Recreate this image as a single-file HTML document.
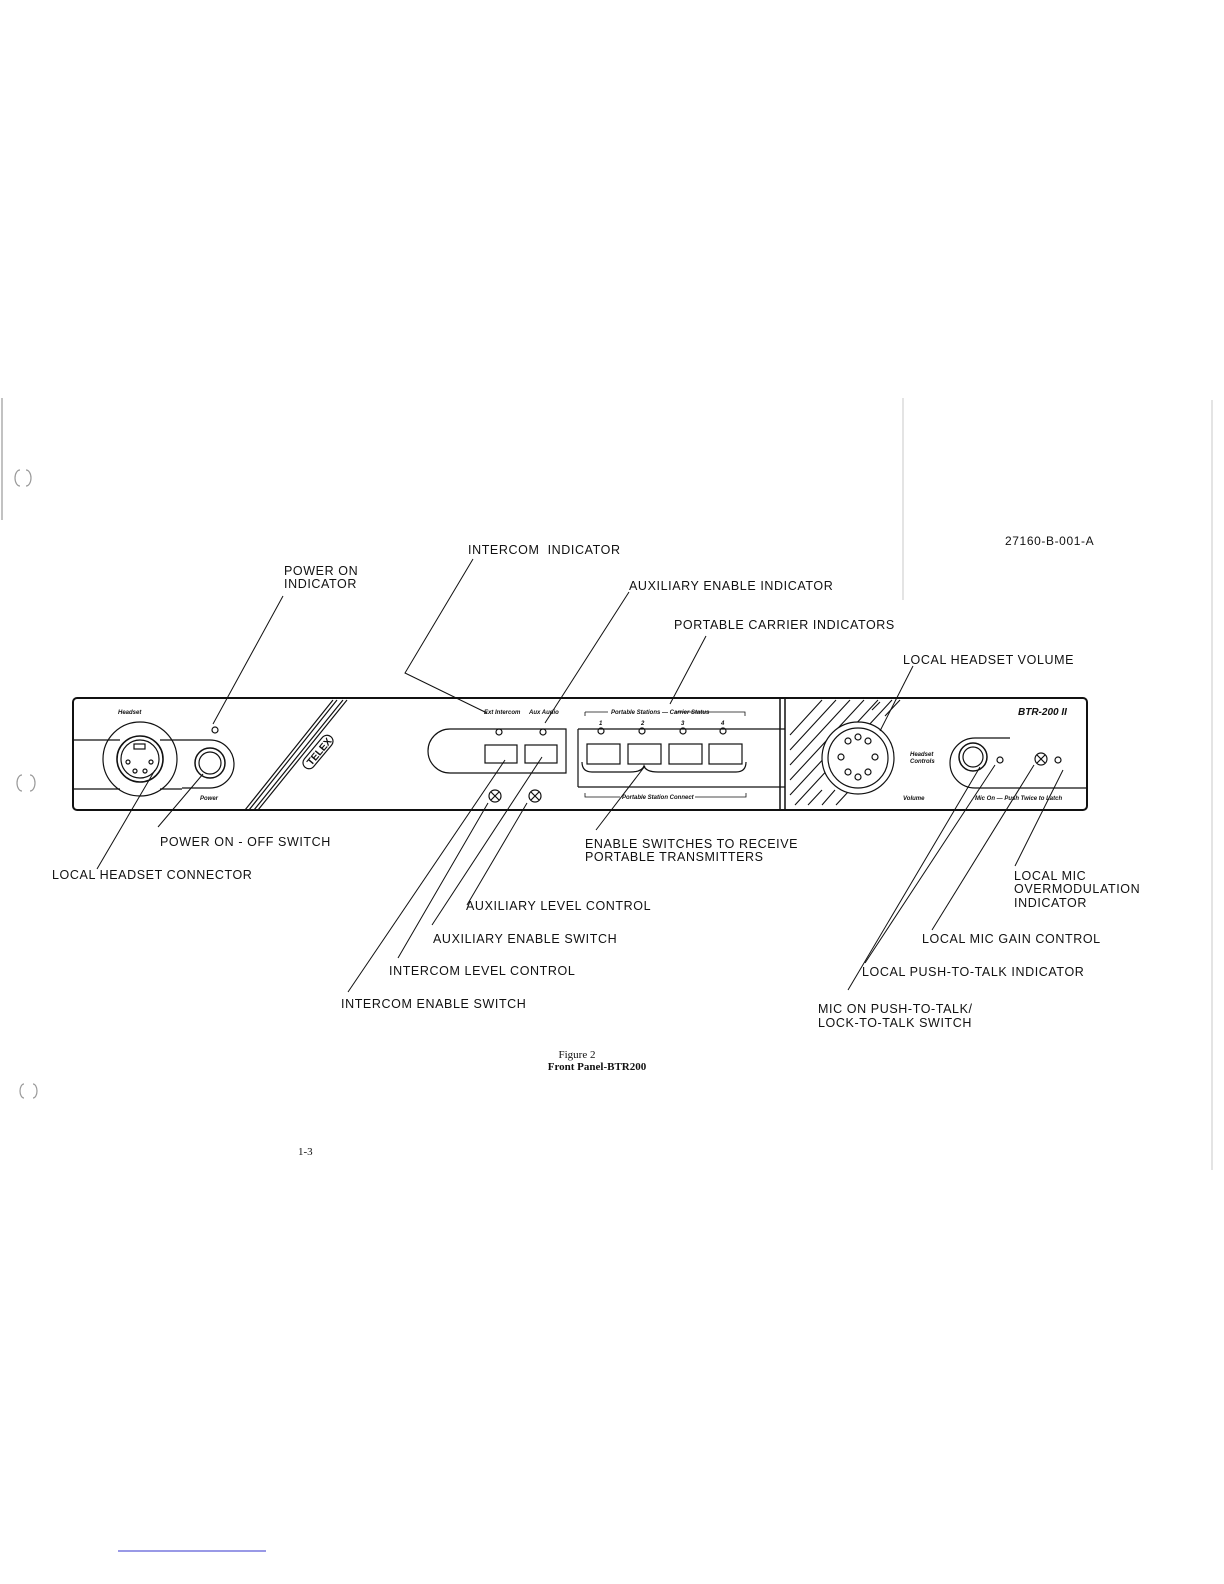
<!DOCTYPE html>
<html><head><meta charset="utf-8"><style>
html,body{margin:0;padding:0;background:#fff}
svg{display:block}
text{font-family:"Liberation Sans",sans-serif;fill:#111}
.l{font-size:12.5px;letter-spacing:0.6px}
.s{font-size:6px;font-style:italic;font-weight:bold}
</style></head><body>
<svg width="1224" height="1584" viewBox="0 0 1224 1584" xmlns="http://www.w3.org/2000/svg" fill="none" stroke="#111" stroke-width="1.2">
<!-- margin marks -->
<line x1="2" y1="398" x2="2" y2="520" stroke="#999"/>
<line x1="903" y1="398" x2="903" y2="600" stroke="#bbb" stroke-width="0.8"/>
<line x1="1212" y1="400" x2="1212" y2="1170" stroke="#bbb" stroke-width="0.8"/>
<line x1="118" y1="1551" x2="266" y2="1551" stroke="#33c" stroke-width="1"/>
<path d="M20 470 a5 8 0 0 0 0 16 M26 470 a5 8 0 0 1 0 16" stroke="#999"/>
<path d="M22 775 a5 8 0 0 0 0 16 M30 775 a5 8 0 0 1 0 16" stroke="#999"/>
<path d="M24 1084 a4 7 0 0 0 0 14 M33 1084 a4 7 0 0 1 0 14" stroke="#999"/>
<!-- panel -->
<rect x="73" y="698" width="1014" height="112" rx="4" stroke-width="2"/>
<line x1="73" y1="740" x2="120" y2="740"/>
<line x1="73" y1="789" x2="120" y2="789"/>
<line x1="160" y1="740" x2="182" y2="740"/>
<line x1="160" y1="789" x2="182" y2="789"/>
<circle cx="140" cy="759" r="37"/>
<circle cx="140" cy="759" r="23" stroke-width="1.6"/>
<circle cx="140" cy="759" r="19"/>
<rect x="134" y="744" width="11" height="5"/>
<circle cx="128" cy="762" r="2"/><circle cx="135" cy="771" r="2"/><circle cx="145" cy="771" r="2"/><circle cx="151" cy="762" r="2"/>
<path d="M182 740 H210 a24 24 0 0 1 0 48 H182" />
<circle cx="210" cy="763" r="15" stroke-width="1.5"/><circle cx="210" cy="763" r="11"/>
<circle cx="215" cy="730" r="3"/>
<text x="118" y="714" class="s" stroke="none">Headset</text>
<text x="200" y="800" class="s" stroke="none">Power</text>
<path d="M333 700 L245 810 M337 700 L249 810 M343 700 L254 810 M347 700 L258 810"/>
<g transform="translate(318,752) rotate(-50)"><rect x="-20" y="-6" width="40" height="12" rx="6"/><text x="-15" y="4" font-size="10" font-weight="bold" stroke="none">TELEX</text></g>
<!-- intercom -->
<path d="M566 729 H450 a22 22 0 0 0 0 44 H566 Z"/>
<rect x="485" y="745" width="32" height="18"/><rect x="525" y="745" width="32" height="18"/>
<circle cx="499" cy="732" r="3"/><circle cx="543" cy="732" r="3"/>
<text x="484" y="714" class="s" stroke="none">Ext Intercom</text><text x="529" y="714" class="s" stroke="none">Aux Audio</text>
<g><circle cx="495" cy="796" r="6"/><path d="M491 792 l8 8 M499 792 l-8 8"/></g>
<g><circle cx="535" cy="796" r="6"/><path d="M531 792 l8 8 M539 792 l-8 8"/></g>
<!-- portable -->
<path d="M578 729 H785 M578 787 H785 M578 729 V787"/>
<rect x="587" y="744" width="33" height="20"/><rect x="628" y="744" width="33" height="20"/><rect x="669" y="744" width="33" height="20"/><rect x="709" y="744" width="33" height="20"/>
<path d="M582 762 q0 10 10 10 H630 q12 0 14 -6 q2 6 14 6 H736 q10 0 10 -10"/>
<circle cx="601" cy="731" r="3"/><circle cx="642" cy="731" r="3"/><circle cx="683" cy="731" r="3"/><circle cx="723" cy="731" r="3"/>
<text x="599" y="725" class="s" stroke="none">1</text><text x="641" y="725" class="s" stroke="none">2</text><text x="681" y="725" class="s" stroke="none">3</text><text x="721" y="725" class="s" stroke="none">4</text>
<path d="M585 712 V716 M585 712 H608 M675 712 H745 V716" stroke-width="0.8"/>
<text x="611" y="714" class="s" stroke="none">Portable Stations — Carrier Status</text>
<path d="M585 793 V797 H620 M695 797 H746 V793" stroke-width="0.8"/>
<text x="622" y="799" class="s" stroke="none">Portable Station Connect</text>
<!-- hatched -->
<line x1="780" y1="698" x2="780" y2="810" stroke-width="1.5"/><line x1="785" y1="698" x2="785" y2="810" stroke-width="1.5"/>
<g stroke-width="1.1">
<path d="M790 735 L822 700 M790 750 L836 700 M790 765 L850 700 M790 780 L864 700 M790 795 L878 700 M795 805 L892 700 M808 805 L822 790 M822 805 L835 790 M836 805 L848 792 M872 710 L880 702 M885 716 L900 700"/>
</g>
<circle cx="858" cy="758" r="36" fill="#fff"/>
<circle cx="858" cy="758" r="30"/>
<g><circle cx="848" cy="741" r="3"/><circle cx="868" cy="741" r="3"/><circle cx="858" cy="737" r="3"/><circle cx="841" cy="757" r="3"/><circle cx="875" cy="757" r="3"/><circle cx="848" cy="772" r="3"/><circle cx="868" cy="772" r="3"/><circle cx="858" cy="777" r="3"/></g>
<text x="910" y="756" class="s" stroke="none">Headset</text><text x="910" y="763" class="s" stroke="none">Controls</text>
<text x="903" y="800" class="s" stroke="none">Volume</text>
<text x="1018" y="715" font-size="10" font-style="italic" font-weight="bold" stroke="none">BTR-200 II</text>
<path d="M1087 788 H975 a25 25 0 0 1 0 -50 H1010"/>
<circle cx="973" cy="757" r="14" stroke-width="1.5"/><circle cx="973" cy="757" r="10"/>
<circle cx="1000" cy="760" r="3"/><circle cx="1058" cy="760" r="3"/>
<g><circle cx="1041" cy="759" r="6"/><path d="M1037 755 l8 8 M1045 755 l-8 8"/></g>
<text x="975" y="800" class="s" stroke="none">Mic On — Push Twice to Latch</text>
<!-- leader lines -->
<g stroke-width="1">
<path d="M283 596 L213 724"/>
<path d="M473 559 L405 673 L487 713"/>
<path d="M629 592 L545 723"/>
<path d="M706 636 L670 704"/>
<path d="M913 666 L880 731"/>
<path d="M155 770 L97 869"/>
<path d="M203 774 L158 827"/>
<path d="M505 760 L348 992"/>
<path d="M488 803 L398 958"/>
<path d="M542 757 L432 925"/>
<path d="M527 803 L467 905"/>
<path d="M645 766 L596 830"/>
<path d="M980 767 L848 990"/>
<path d="M995 765 L865 963"/>
<path d="M1034 765 L932 930"/>
<path d="M1063 770 L1015 866"/>
</g>
<!-- labels -->
<g class="l" stroke="none">
<text x="284" y="575" class="l">POWER ON</text><text x="284" y="588" class="l">INDICATOR</text>
<text x="468" y="554" class="l">INTERCOM&#160;&#160;INDICATOR</text>
<text x="629" y="590" class="l">AUXILIARY ENABLE INDICATOR</text>
<text x="674" y="629" class="l">PORTABLE CARRIER INDICATORS</text>
<text x="903" y="664" class="l">LOCAL HEADSET VOLUME</text>
<text x="1005" y="545" font-size="12" stroke="none">27160-B-001-A</text>
<text x="160" y="846" class="l">POWER ON - OFF SWITCH</text>
<text x="52" y="879" class="l">LOCAL HEADSET CONNECTOR</text>
<text x="585" y="848" class="l">ENABLE SWITCHES TO RECEIVE</text>
<text x="585" y="861" class="l">PORTABLE TRANSMITTERS</text>
<text x="466" y="910" class="l">AUXILIARY LEVEL CONTROL</text>
<text x="433" y="943" class="l">AUXILIARY ENABLE SWITCH</text>
<text x="389" y="975" class="l">INTERCOM LEVEL CONTROL</text>
<text x="341" y="1008" class="l">INTERCOM ENABLE SWITCH</text>
<text x="1014" y="880" class="l">LOCAL MIC</text><text x="1014" y="893" class="l">OVERMODULATION</text><text x="1014" y="907" class="l">INDICATOR</text>
<text x="922" y="943" class="l">LOCAL MIC GAIN CONTROL</text>
<text x="862" y="976" class="l">LOCAL PUSH-TO-TALK INDICATOR</text>
<text x="818" y="1013" class="l">MIC ON PUSH-TO-TALK/</text><text x="818" y="1027" class="l">LOCK-TO-TALK SWITCH</text>
</g>
<text x="577" y="1058" font-family="Liberation Serif" font-size="11" text-anchor="middle" stroke="none" style="font-family:'Liberation Serif',serif">Figure 2</text>
<text x="597" y="1070" font-size="11" text-anchor="middle" font-weight="bold" stroke="none" style="font-family:'Liberation Serif',serif">Front Panel-BTR200</text>
<text x="298" y="1155" font-size="11" stroke="none" style="font-family:'Liberation Serif',serif">1-3</text>
</svg>
</body></html>
